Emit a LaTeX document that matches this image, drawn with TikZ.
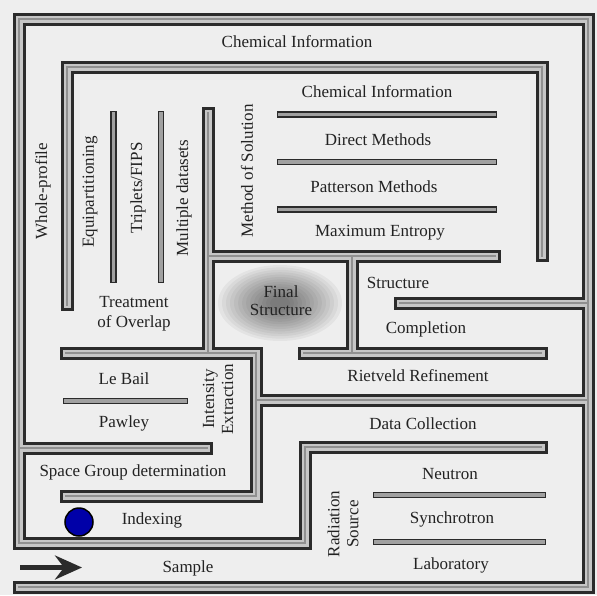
\documentclass[tikz,border=0pt]{standalone}
\usepackage{fontspec}
\setmainfont{Liberation Serif}
\usetikzlibrary{arrows.meta}

\definecolor{paper}{HTML}{EEEEEE}
\definecolor{wallink}{HTML}{2B2B2B}
\definecolor{walllight}{HTML}{C6C6C6}
\definecolor{wallcore}{HTML}{909090}
\definecolor{barfill}{HTML}{A0A0A0}
\definecolor{dotblue}{HTML}{0000A8}
\definecolor{inktext}{HTML}{222222}

\tikzset{
  wallA/.style={draw=wallink, line width=13pt, line cap=rect, line join=miter},
  wallB/.style={draw=walllight, line width=7pt, line cap=rect, line join=miter},
  wallC/.style={draw=wallcore, line width=2.5pt, line cap=rect, line join=miter},
  barA/.style={draw=wallink, line width=6.5pt, line cap=rect},
  barB/.style={draw=barfill, line width=3.5pt, line cap=rect},
  lbl/.style={font=\fontsize{17}{19}\selectfont, text=inktext, inner sep=0pt, align=center},
  vlbl/.style={lbl, rotate=90},
}

% thick maze walls (centre lines)
\def\mazethick{
  (19,587) -- (588,587) -- (588,19) -- (19,19) -- (19,543) -- (305,543) -- (305,447) -- (541,447)
  (67,304.5) -- (67,67) -- (542,67) -- (542,255.5)
  (208,113.5) -- (208,353)
  (208,256) -- (494.5,256)
  (352,256) -- (352,353)
  (66.5,353) -- (256,353) -- (256,496) -- (66.5,496)
  (256,400) -- (588,400)
  (304.5,353) -- (541,353)
  (400.5,303) -- (588,303)
  (19,448) -- (206.5,448)
}

% thin partition bars
\def\mazethin{
  (113.5,114) -- (113.5,280)
  (161,114) -- (161,280)
  (280,114.5) -- (494,114.5)
  (280,162) -- (494,162)
  (280,209.5) -- (494,209.5)
  (66,401) -- (185,401)
  (376,495) -- (543,495)
  (376,542) -- (543,542)
}

\begin{document}
\begin{tikzpicture}[x=1pt, y=-1pt]
  \useasboundingbox (0,0) rectangle (597,595);
  \fill[paper] (0,0) rectangle (597,595);

  % soft cloud behind the goal
  \foreach \k in {0,...,13}
    \fill[black, fill opacity=0.045] (280,303) ellipse ({62-4*\k} and {38-2.4*\k});

  % walls, drawn in layers so that junctions merge
  \draw[wallA] \mazethick;
  \draw[wallB] \mazethick;
  \draw[wallC] \mazethick;
  \draw[barA] \mazethin;
  \draw[barB] \mazethin;

  % entry arrow
  \coordinate (arrowtail) at (20,567.5);
  \coordinate (arrowtip) at (82,567.5);
  \draw[wallink, line width=4.5pt, -{Stealth[length=27pt, width=24pt, inset=9pt]}] (arrowtail) -- (arrowtip);

  % marker
  \node[circle, fill=dotblue, draw=black, line width=1.5pt, minimum size=28pt, inner sep=0pt] (marker) at (79,522) {};

  % labels
  \node[lbl] (chem1) at (297,42) {Chemical Information};
  \node[lbl] (chem2) at (377,92) {Chemical Information};
  \node[lbl] (direct) at (378,140) {Direct Methods};
  \node[lbl] (patterson) at (374,187) {Patterson Methods};
  \node[lbl] (maxent) at (380,233) {Maximum Entropy};
  \node[lbl] (structure) at (398,283) {Structure};
  \node[lbl] (completion) at (426,329) {Completion};
  \node[lbl] (rietveld) at (418,376) {Rietveld Refinement};
  \node[lbl] (datacoll) at (423,424) {Data Collection};
  \node[lbl] (neutron) at (450,474) {Neutron};
  \node[lbl] (synchro) at (452,519) {Synchrotron};
  \node[lbl] (lab) at (451,565) {Laboratory};
  \node[vlbl] (radsrc) at (343,524) {Radiation\\Source};
  \node[lbl] (sample) at (188,568) {Sample};
  \node[lbl] (indexing) at (152,520) {Indexing};
  \node[lbl] (spacegroup) at (133,472) {Space Group determination};
  \node[lbl] (pawley) at (124,423) {Pawley};
  \node[lbl] (lebail) at (124,379) {Le Bail};
  \node[vlbl] (intensity) at (218,399) {Intensity\\Extraction};
  \node[lbl, font=\fontsize{17}{20}\selectfont] (overlap) at (134,314) {Treatment\\of Overlap};
  \node[lbl, font=\fontsize{17}{18}\selectfont] (final) at (281,301) {Final\\Structure};
  \node[vlbl] (wholeprof) at (43,191) {Whole-profile};
  \node[vlbl] (equip) at (90,192) {Equipartitioning};
  \node[vlbl] (triplets) at (138,188) {Triplets/FIPS};
  \node[vlbl] (multiple) at (184,198) {Multiple datasets};
  \node[vlbl] (method) at (247,171) {Method of Solution};
\end{tikzpicture}
\end{document}
